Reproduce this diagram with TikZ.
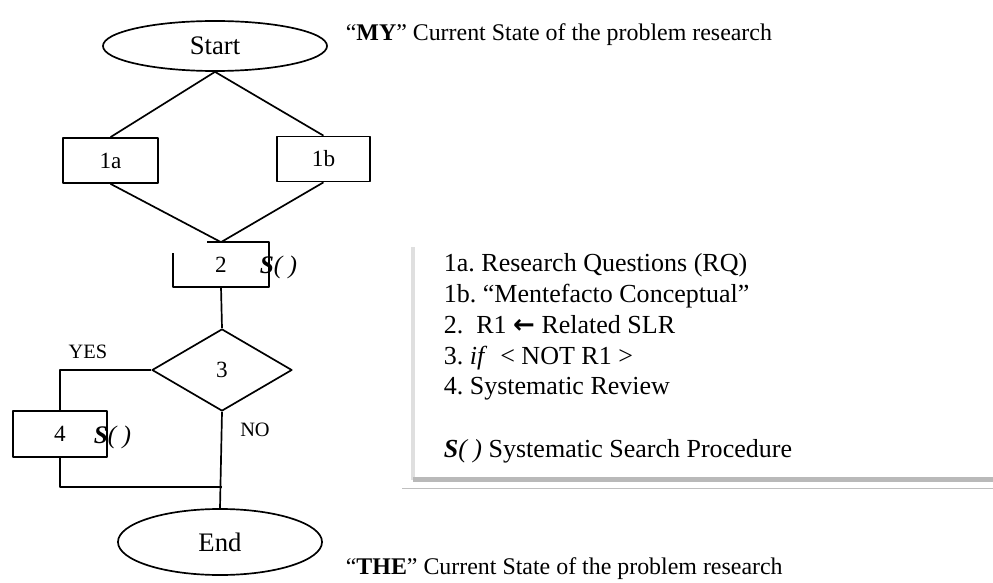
\documentclass[tikz,border=0pt]{standalone}
\usepackage{fontspec}
\setmainfont{Liberation Serif}
\newfontfamily\symfont{DejaVu Sans}
\usetikzlibrary{shapes.geometric}
\frenchspacing

\begin{document}
\begin{tikzpicture}[x=0.025cm, y=-0.025cm, font=\fontsize{16.5}{20}\selectfont, line width=1.2pt, line join=round,
	stepbox/.style={draw, rectangle, minimum width=2.375cm, minimum height=1.125cm, inner sep=0pt},
	terminal/.style={draw, ellipse, inner sep=0pt, font=\fontsize{19}{22}\selectfont},
	smalllab/.style={font=\fontsize{14.5}{17}\selectfont},
	sproc/.style={font=\fontsize{18}{21}\selectfont\itshape, anchor=west, inner sep=0pt},
	legend/.style={anchor=base west, inner sep=0pt, font=\fontsize{18.5}{22}\selectfont}]
	\useasboundingbox (0,0) rectangle (993,583);
	% flow chart
	\node[terminal, minimum width=5.6cm, minimum height=1.25cm] (start) at (215,46) {Start};
	\node[stepbox] (q1a) at (110.5,160.5) {1a};
	\node[stepbox, minimum width=2.325cm] (q1b) at (323.5,159) {1b};
	\node[stepbox, draw=none, minimum width=2.35cm, minimum height=1.075cm] (q2) at (221,264.5) {2};
	\node[draw, diamond, minimum width=3.5cm, minimum height=2.05cm, inner sep=0pt] (q3) at (222,370) {3};
	\node[stepbox, minimum width=2.35cm, minimum height=1.15cm] (q4) at (60,434) {4};
	\node[terminal, minimum width=5.1cm, minimum height=1.65cm] (end) at (220,542) {End};
	\node[sproc] (s2) at (259,267) {\textbf{S}( )};
	\node[sproc] (s4) at (93,437) {\textbf{S}( )};
	\node[smalllab] (yes) at (88,352) {YES};
	\node[smalllab] (no) at (255,430) {NO};
	\coordinate (merge) at (222,487);
	\draw ([xshift=0.85cm]q2.north west)--(q2.north east)--(q2.south east)--(q2.south west)--([yshift=-0.275cm]q2.north west);
	\draw (start.south)--(q1a.north) (start.south)--(q1b.north);
	\draw (q1a.south)--(q2.north) (q1b.south)--(q2.north);
	\draw (q2.south)--(q3.north) (q3.south)--(end.north);
	\draw (q3.west)-|(q4.north);
	\draw (q4.south)|-(merge);
	% captions
	\node[anchor=base west, inner sep=0pt, font=\fontsize{17}{20}\selectfont] (mycap) at (345,41) {“\textbf{MY}” Current State of the problem research};
	\node[anchor=base west, inner sep=0pt, font=\fontsize{17}{20}\selectfont] (thecap) at (345,574) {“\textbf{THE}” Current State of the problem research};
	% legend box
	\fill[gray!25] (411,247) rectangle (415,480);
	\fill[gray!55] (413,477) rectangle (993,482);
	\draw[gray!50, line width=0.6pt] (402,488)--(993,488);
	\foreach \i/\y/\t in {1/272/{1a. Research Questions (RQ)}, 2/303/{1b. “Mentefacto Conceptual”}, 3/333/{2.\ \ R1 {\symfont\bfseries ←} Related SLR}, 4/364/{3. \textit{if}\ \ < NOT R1 >}, 5/394/{4. Systematic Review}}
		\node[legend] (item\i) at (443,\y) {\t};
	\node[legend] (item6) at (443,457) {\textit{\textbf{S}( )} Systematic Search Procedure};
\end{tikzpicture}
\end{document}
